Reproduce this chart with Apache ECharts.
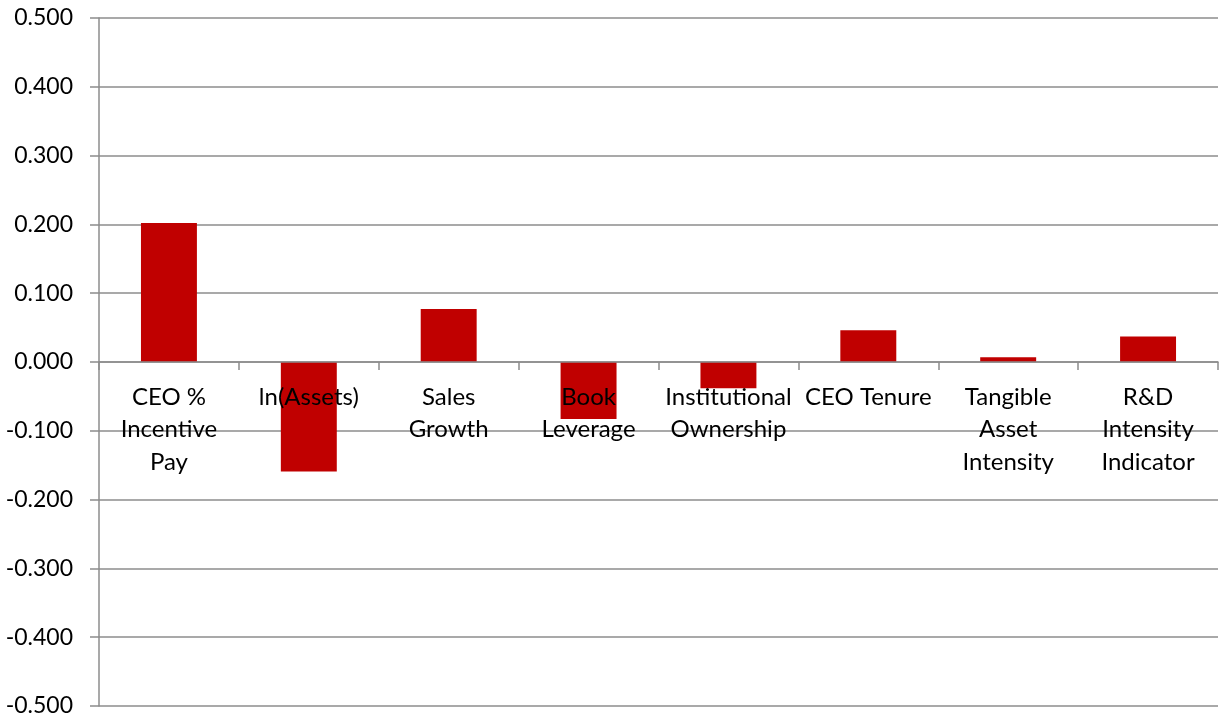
<!DOCTYPE html>
<html>
<head>
<meta charset="utf-8">
<script src="https://cdn.jsdelivr.net/npm/echarts@6/dist/echarts.min.js"></script>
<style>
  html, body { margin: 0; padding: 0; background: #ffffff; }
  #chart { width: 1225px; height: 721px; }
</style>
</head>
<body>
<div id="chart"></div>
<script>
// Determinant names (axis categories)
const categories = [
  'CEO %\nIncentive\nPay',
  'ln(Assets)',
  'Sales\nGrowth',
  'Book\nLeverage',
  'Institutional\nOwnership',
  'CEO Tenure',
  'Tangible\nAsset\nIntensity',
  'R&D\nIntensity\nIndicator'
];

// Coefficient for each determinant
const values = [0.202, -0.159, 0.077, -0.083, -0.038, 0.046, 0.007, 0.037];

// Value axis range and step
const yMin = -0.5;
const yMax = 0.5;
const yStep = 0.1;

const FONT = 'Lato, "Open Sans", sans-serif';
const GRID_COLOR = '#8c8c8c';

const W = 1225, H = 721;
const gridBox = { left: 99, right: 7, top: 18, bottom: 15 };
const plotH = H - gridBox.top - gridBox.bottom;
// Lift the category axis from the bottom edge up to the zero line
const zeroOffset = plotH * (0 - yMin) / (yMax - yMin);

const chart = echarts.init(document.getElementById('chart'), null, { renderer: 'canvas', width: W, height: H });

chart.setOption({
  animation: false,
  backgroundColor: '#ffffff',
  grid: Object.assign({ containLabel: false, outerBoundsMode: 'none' }, gridBox),
  xAxis: {
    type: 'category',
    data: categories,
    position: 'bottom',
    offset: -zeroOffset,
    z: 5,
    axisLine: { onZero: false, lineStyle: { color: GRID_COLOR, width: 1.5 } },
    axisTick: { show: true, length: 8, inside: false, lineStyle: { color: GRID_COLOR, width: 1.5 } },
    axisLabel: {
      interval: 0,
      margin: 19,
      color: '#000000',
      fontFamily: FONT,
      fontSize: 24,
      lineHeight: 32.5
    },
    splitLine: { show: false }
  },
  yAxis: {
    type: 'value',
    min: yMin,
    max: yMax,
    interval: yStep,
    axisLine: { show: true, lineStyle: { color: GRID_COLOR, width: 1.5 } },
    axisTick: { show: true, length: 9, lineStyle: { color: GRID_COLOR, width: 1.5 } },
    axisLabel: {
      margin: 26,
      color: '#000000',
      fontFamily: FONT,
      fontSize: 23,
      formatter: v => v.toFixed(3)
    },
    splitLine: { show: true, lineStyle: { color: GRID_COLOR, width: 1.5 } }
  },
  series: [{
    type: 'bar',
    data: values,
    barWidth: '40%',
    itemStyle: { color: '#c00000' },
    z: 2
  }]
});
</script>
</body>
</html>
